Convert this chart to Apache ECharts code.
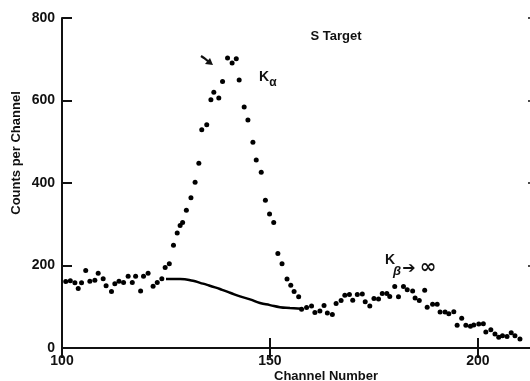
<!DOCTYPE html>
<html>
<head>
<meta charset="utf-8">
<script src="https://cdn.jsdelivr.net/npm/echarts@6/dist/echarts.min.js"></script>
<style>
html,body{margin:0;padding:0;background:#fff;}
#c{width:530px;height:381px;}
</style>
</head>
<body>
<div id="c"></div>
<script>
// Measured spectrum points (channel, counts per channel)
var channels = [100.9,102.0,103.1,103.9,104.7,105.7,106.7,107.9,108.7,109.9,
110.6,111.9,112.7,113.7,114.8,115.9,116.9,117.7,118.9,119.6,
120.7,121.9,122.9,124.0,124.8,125.8,126.8,127.7,128.4,129.0,
129.9,131.0,132.0,132.9,133.6,134.8,135.8,136.5,137.7,138.6,
139.8,140.9,141.9,142.6,143.8,144.7,145.9,146.7,147.9,148.9,
149.9,150.9,151.9,152.9,154.1,155.0,155.8,156.9,157.6,158.8,
160.0,160.8,162.0,163.0,163.8,165.0,165.9,167.1,168.0,169.1,
169.9,171.0,172.2,172.9,174.0,175.0,176.1,177.0,178.1,178.8,
180.0,180.9,182.1,183.0,184.3,184.9,185.9,187.2,187.8,189.1,
190.2,190.9,192.1,193.0,194.2,195.0,196.1,197.1,198.2,199.0,
200.2,201.3,201.9,203.1,204.1,205.0,205.9,207.0,208.0,208.9,210.1];
var counts = [161,163,158,144,158,188,162,164,181,168,
151,137,156,162,159,174,159,174,138,174,
181,150,159,168,195,204,249,279,297,304,
334,364,402,448,529,541,602,620,606,646,
703,691,701,650,584,553,499,456,426,358,
325,304,229,204,167,152,137,124,94,98,
102,86,90,103,85,81,108,115,128,130,
116,130,131,112,102,120,119,132,132,125,
149,124,149,141,138,121,115,140,99,106,
106,87,87,83,88,55,72,55,53,56,
58,59,39,44,34,26,30,28,37,30,22];
// Background curve under the K-alpha peak
var bgChannels = [125.0,128.4,131.5,133.2,134.9,136.8,138.5,140.4,142.8,145.2,147.6,150.0,152.4,154.8,157.6];
var bgCounts = [167,167,163,158,153,147,141,134,125,118,109,104,99,97,95];
// Axis ticks
var xTicks = [100,150,200];
var yTicks = [0,200,400,600,800];

var pts = channels.map(function(c,i){return [c,counts[i]];});
var bg = bgChannels.map(function(c,i){return [c,bgCounts[i]];});

var FONT = 'Liberation Sans';
var ink = '#111';
var chart = echarts.init(document.getElementById('c'), null, {renderer:'canvas'});

function axisCommon(extra){
  return Object.assign({
    axisLine:{show:true,lineStyle:{color:ink,width:2}},
    axisTick:{show:true,inside:true,length:10,lineStyle:{color:ink,width:2}},
    splitLine:{show:false}
  }, extra);
}

chart.setOption({
  backgroundColor:'#fff',
  animation:false,
  grid:{left:62,top:18,width:470,height:330,containLabel:false,outerBoundsMode:'none'},
  xAxis:[
    axisCommon({type:'value',position:'bottom',min:100,max:213,interval:50,
      axisLabel:{show:true,color:ink,fontFamily:FONT,fontWeight:'bold',fontSize:14,margin:6,
        formatter:function(v){return xTicks.indexOf(v)>=0?String(v):'';}}}),
    axisCommon({type:'value',position:'top',min:100,max:213,interval:50,
      axisLabel:{show:false}})
  ],
  yAxis:[
    axisCommon({type:'value',position:'left',min:0,max:800,interval:200,
      axisLabel:{show:true,color:ink,fontFamily:FONT,fontWeight:'bold',fontSize:14,margin:7,
        formatter:function(v){return yTicks.indexOf(v)>=0?String(v):'';}}}),
    axisCommon({type:'value',position:'right',min:0,max:800,interval:200,
      axisLine:{show:false},
      axisTick:{show:true,inside:true,length:4,lineStyle:{color:ink,width:1.5}},
      axisLabel:{show:false}})
  ],
  series:[
    {type:'scatter',data:pts,symbol:'circle',symbolSize:5,
      itemStyle:{color:'#000',opacity:1},xAxisIndex:0,yAxisIndex:0},
    {type:'line',data:bg,smooth:0.5,symbol:'none',
      lineStyle:{color:'#000',width:2.5},xAxisIndex:0,yAxisIndex:0}
  ],
  graphic:[
    {type:'text',x:16,y:153,rotation:Math.PI/2,
      style:{text:'Counts per Channel',fill:ink,font:'bold 13px "Liberation Sans"',textAlign:'center',textVerticalAlign:'middle'}},
    {type:'text',x:326,y:376,
      style:{text:'Channel Number',fill:ink,font:'bold 13px "Liberation Sans"',textAlign:'center',textVerticalAlign:'middle'}},
    {type:'text',x:336,y:36,
      style:{text:'S Target',fill:ink,font:'bold 13px "Liberation Sans"',textAlign:'center',textVerticalAlign:'middle'}},
    {type:'text',x:264,y:77,
      style:{text:'K',fill:ink,font:'bold 14px "Liberation Sans"',textAlign:'center',textVerticalAlign:'middle'}},
    {type:'text',x:273,y:83,
      style:{text:'α',fill:ink,font:'bold 12px "Liberation Sans"',textAlign:'center',textVerticalAlign:'middle'}},
    {type:'text',x:390,y:260,
      style:{text:'K',fill:ink,font:'bold 14px "Liberation Sans"',textAlign:'center',textVerticalAlign:'middle'}},
    {type:'text',x:397,y:271,
      style:{text:'β',fill:ink,font:'italic bold 13px "Liberation Sans"',textAlign:'center',textVerticalAlign:'middle'}},
    {type:'text',x:409,y:269,
      style:{text:'➔',fill:ink,font:'bold 16px "DejaVu Sans"',textAlign:'center',textVerticalAlign:'middle'}},
    {type:'text',x:428,y:268,
      style:{text:'∞',fill:ink,font:'bold 20px "DejaVu Sans"',textAlign:'center',textVerticalAlign:'middle'}},
    {type:'polyline',shape:{points:[[201,56],[204,58],[209,62]]},
      style:{stroke:ink,lineWidth:2.2,fill:null}},
    {type:'polygon',shape:{points:[[213,65],[205,64],[210,58]]},
      style:{fill:ink}}
  ]
});
</script>
</body>
</html>
